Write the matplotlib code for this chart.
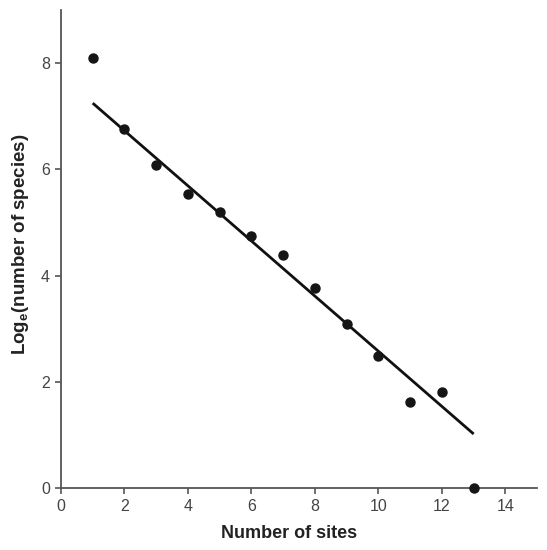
import matplotlib.pyplot as plt
import numpy as np

plt.rcParams['font.family'] = ['Liberation Sans', 'DejaVu Sans']
plt.rcParams['mathtext.fontset'] = 'custom'
plt.rcParams['mathtext.rm'] = 'Liberation Sans:bold'

# values
sites = [1, 2, 3, 4, 5, 6, 7, 8, 9, 10, 11, 12, 13]
log_species = [8.1, 6.76, 6.08, 5.54, 5.2, 4.75, 4.38, 3.76, 3.08, 2.48, 1.61, 1.8, 0.0]

x_ticks = [0, 2, 4, 6, 8, 10, 12, 14]
y_ticks = [0, 2, 4, 6, 8]

# regression line: fitted on sites 2..12, drawn over 1..13
fit_from, fit_to = 1, 12
slope, intercept = np.polyfit(sites[fit_from:fit_to], log_species[fit_from:fit_to], 1)
line_x = np.array([sites[0], sites[-1]])
line_y = slope * line_x + intercept

fig = plt.figure(figsize=(5.47, 5.5), dpi=100)
ax = fig.add_axes([0.1115, 0.1127, 0.8705, 0.8693])

ax.plot(line_x, line_y, color='#111111', lw=2.0, solid_capstyle='butt', zorder=2)
ax.plot(sites, log_species, 'o', color='#151515', ms=6.5, clip_on=False, zorder=3)

ax.set_xlim(0, 15)
ax.set_ylim(0, 9)
ax.set_xticks(x_ticks)
ax.set_yticks(y_ticks)

for side in ['top', 'right']:
    ax.spines[side].set_visible(False)
for side in ['left', 'bottom']:
    ax.spines[side].set_color('#555555')
    ax.spines[side].set_linewidth(1.3)

ax.tick_params(direction='out', length=4, width=1.2, color='#555555',
               labelcolor='#444444', labelsize=11.5, pad=4)

ax.set_xlabel('Number of sites', fontsize=13, fontweight='bold', color='#222222')
ax.set_ylabel(r'Log$_{\mathrm{e}}$(number of species)', fontsize=13.5, fontweight='bold',
              color='#222222')
ax.xaxis.set_label_coords(0.479, -0.077)
ax.yaxis.set_label_coords(-0.064, 0.51)

fig.savefig('out.png', dpi=100)
